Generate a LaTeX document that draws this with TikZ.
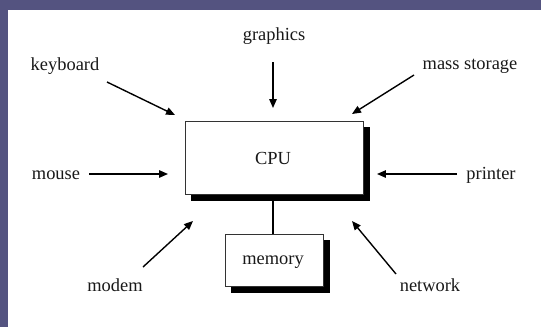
\documentclass[tikz,border=0pt]{standalone}
\usepackage{fontspec}
\setmainfont{Liberation Serif}
\usetikzlibrary{arrows.meta}
\definecolor{bgpurple}{RGB}{84,83,128}
\definecolor{txt}{RGB}{25,25,25}
\tikzset{
  lbl/.style={font=\fontsize{18.5}{20}\selectfont, text=txt, inner sep=0pt},
  arr/.style={line width=1.4pt, -{Triangle[length=9pt,width=7.5pt]}},
  box/.style={draw=black!80, line width=0.9pt, fill=white}
}
\begin{document}
\begin{tikzpicture}[x=1bp,y=-1bp]
\useasboundingbox (0,0) rectangle (541,327);
\fill[bgpurple] (0,0) rectangle (541,327);
\fill[white] (8,10) rectangle (541,327);
% shadows
\fill[black] (191,127) rectangle (370,201);
\fill[black] (231,240) rectangle (330,293);
% boxes
\node[box, minimum width=178bp, minimum height=73bp, anchor=north west] (cpu) at (185,121) {};
\node[lbl] at (273,158) {CPU};
\node[box, minimum width=98bp, minimum height=52bp, anchor=north west] (mem) at (225,234) {};
\node[lbl] at (273,262) {memory};
\draw[line width=1.1pt] (273,201) -- (mem.north -| 273,0);
% labels
\node[lbl] (graphics) at (274,36) {graphics};
\node[lbl] (keyboard) at (65,66) {keyboard};
\node[lbl] (mass) at (470,66) {mass storage};
\node[lbl] (mouse) at (56,175) {mouse};
\node[lbl] (printer) at (491,175) {printer};
\node[lbl] (modem) at (115,285) {modem};
\node[lbl] (network) at (430,285) {network};
% arrows
\coordinate (g1) at (273,62); \coordinate (g2) at (273,108);
\coordinate (k1) at (107,82); \coordinate (k2) at (175,115);
\coordinate (s1) at (414,75); \coordinate (s2) at (352,114);
\coordinate (m1) at (89,174); \coordinate (m2) at (168,174);
\coordinate (p1) at (457,174); \coordinate (p2) at (377,174);
\coordinate (d1) at (143,267); \coordinate (d2) at (193,221);
\coordinate (n1) at (396,274); \coordinate (n2) at (352,221);
\draw[arr] (g1) -- (g2);
\draw[arr] (k1) -- (k2);
\draw[arr] (s1) -- (s2);
\draw[arr] (m1) -- (m2);
\draw[arr] (p1) -- (p2);
\draw[arr] (d1) -- (d2);
\draw[arr] (n1) -- (n2);
\end{tikzpicture}
\end{document}
